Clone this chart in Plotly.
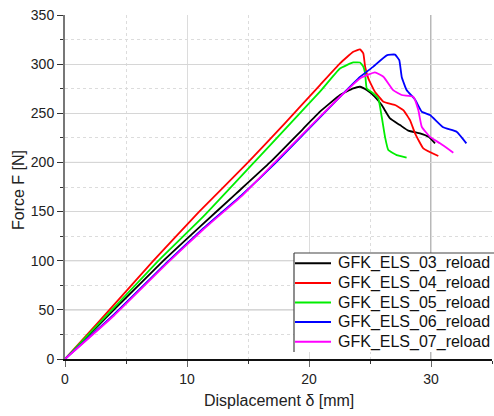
import plotly.graph_objects as go

# Force-displacement curves of the reloaded GFK ELS specimens
names = ["GFK_ELS_03_reload", "GFK_ELS_04_reload", "GFK_ELS_05_reload",
         "GFK_ELS_06_reload", "GFK_ELS_07_reload"]
colors = ["#000000", "#ff0000", "#00ee00", "#0000ff", "#ff00ff"]

disp_03 = [0, 4, 8.07, 11.07, 14, 16.8, 19.5, 20.9, 22.54, 23.63, 24.18, 24.73, 25.4,
           25.96, 26.64, 27.46, 28.14, 29.1, 29.8, 30.33]
force_03 = [0, 50, 100, 134.7, 168, 200, 234, 251.6, 268.6, 275.4, 277, 273.6, 266.8,
            258.4, 244.8, 238, 232.3, 229.5, 226, 219.4]

disp_04 = [0, 3, 7.25, 11, 15, 18, 20.9, 22.54, 23.63, 24.18, 24.45,
           24.6, 24.86, 25.4, 26.1, 27.05, 27.73, 28.28, 28.69, 29.37, 30.6]
force_04 = [0, 41, 100, 150, 200, 239.5, 278.7, 300.8, 312.6, 315, 311,
            297.5, 285.5, 272, 261.8, 258.4, 253.3, 243, 229.6, 214.3, 206.5]

disp_05 = [0, 4, 7.66, 11.35, 15.5, 18.5, 20.9, 22.54, 23.63, 24.18, 24.45, 24.6, 24.73,
           25.27, 25.68, 25.96, 26.23, 26.5, 27.19, 28.0]
force_05 = [0, 52, 100, 145, 200, 240, 272, 295.6, 301.7, 301.7, 297.5, 290.7, 275.4,
            270.3, 265.2, 246.5, 226, 212.6, 207.5, 205]

disp_06 = [0, 4, 8.34, 11.35, 14.5, 17.3, 22.54, 24.18, 25.27, 26.37, 27.05, 27.4,
           27.6, 28.0, 28.69, 29.24, 29.92, 31.0, 32.1, 32.9]
force_06 = [0, 45, 98, 133, 167, 200, 266.8, 287, 297.5, 309, 309.7, 304,
            287, 273.6, 264, 251.6, 248.2, 235.7, 231.2, 219.4]

disp_07 = [0, 4, 8.34, 11.35, 14.5, 17.2, 20.9, 22.54, 24.18, 25.4, 26.1, 26.9,
           27.6, 28.55, 28.96, 29.24, 29.92, 30.74, 31.83]
force_07 = [0, 44, 97, 132, 166, 200, 246.5, 266.8, 285.5, 291.6, 287.2, 273.6,
            268.6, 266.8, 253.3, 236.3, 226, 219.4, 209.9]

series_x = [disp_03, disp_04, disp_05, disp_06, disp_07]
series_y = [force_03, force_04, force_05, force_06, force_07]

x_ticks = [0, 10, 20, 30]
y_ticks = [0, 50, 100, 150, 200, 250, 300, 350]

FONT = "Arial, Liberation Sans, sans-serif"
W, H = 494, 416
ML, MR, MT, MB = 65, 2, 15, 57
PW, PH = W - ML - MR, H - MT - MB


def px_x(p):
    return (p - ML) / PW


def px_y(p):
    return (H - MB - p) / PH


fig = go.Figure()
for nm, c, xs, ys in zip(names, colors, series_x, series_y):
    fig.add_trace(go.Scatter(x=xs, y=ys, mode="lines", name=nm,
                             line=dict(color=c, width=1.8, shape="spline", smoothing=0.35),
                             showlegend=False))

fig.update_layout(
    width=W, height=H,
    margin=dict(l=ML, r=MR, t=MT, b=MB),
    paper_bgcolor="white", plot_bgcolor="white",
    font=dict(family=FONT, color="#222222"),
    xaxis=dict(range=[0, 35], tickvals=x_ticks, showgrid=True, gridcolor="#dcdcdc",
               gridwidth=1, zeroline=False, showline=True, linecolor="#111111",
               linewidth=2, ticks="outside", ticklen=6, tickcolor="#666666",
               tickfont=dict(size=14, family=FONT, color="#222222"),
               minor=dict(dtick=5, ticks="outside", ticklen=3, tickcolor="#333333",
                          showgrid=True, gridcolor="#dcdcdc", griddash="dot")),
    yaxis=dict(range=[0, 350], tickvals=y_ticks, showgrid=True, gridcolor="#d6d6d6",
               gridwidth=1, zeroline=False, showline=True, linecolor="#777777",
               linewidth=2, ticks="outside", ticklen=6, tickcolor="#333333",
               tickfont=dict(size=14, family=FONT, color="#222222"),
               minor=dict(dtick=25, ticks="outside", ticklen=3, tickcolor="#333333",
                          showgrid=True, gridcolor="#dcdcdc", griddash="dot")),
)

shapes = []
# Emphasised grid lines
for yv, col in [(50, "#b4b4b4"), (100, "#b4b4b4"), (200, "#9a9a9a")]:
    shapes.append(dict(type="line", xref="paper", yref="y", x0=0, x1=1, y0=yv, y1=yv,
                       line=dict(color=col, width=1), layer="below"))
shapes.append(dict(type="line", xref="x", yref="paper", x0=30, x1=30, y0=0, y1=1,
                   line=dict(color="#a0a0a0", width=1.5), layer="below"))

# Legend box
lg_left, lg_top, lg_bottom = 294, 253, 352
shapes.append(dict(type="rect", xref="paper", yref="paper",
                   x0=px_x(lg_left), x1=px_x(W + 5), y0=px_y(lg_bottom), y1=px_y(lg_top),
                   fillcolor="white", line=dict(width=0), layer="above"))
shapes.append(dict(type="line", xref="paper", yref="paper",
                   x0=px_x(lg_left), x1=px_x(lg_left), y0=px_y(lg_bottom), y1=px_y(lg_top),
                   line=dict(color="#444444", width=1.2), layer="above"))
shapes.append(dict(type="line", xref="paper", yref="paper",
                   x0=px_x(lg_left), x1=px_x(W + 5), y0=px_y(lg_top), y1=px_y(lg_top),
                   line=dict(color="#444444", width=1.2), layer="above"))

annotations = []
row0, row_step = 263.3, 19.6
for i, (nm, c) in enumerate(zip(names, colors)):
    yy = px_y(row0 + i * row_step)
    shapes.append(dict(type="line", xref="paper", yref="paper",
                       x0=px_x(295), x1=px_x(331), y0=yy, y1=yy,
                       line=dict(color=c, width=2), layer="above"))
    annotations.append(dict(xref="paper", yref="paper", x=px_x(336), y=yy,
                            xanchor="left", yanchor="middle", showarrow=False,
                            text=nm, font=dict(size=16, family=FONT, color="#111111")))

# Axis titles
annotations.append(dict(xref="paper", yref="paper", x=px_x(279), y=px_y(400),
                        xanchor="center", yanchor="middle", showarrow=False,
                        text="Displacement δ [mm]",
                        font=dict(size=16, family=FONT, color="#222222")))
annotations.append(dict(xref="paper", yref="paper", x=px_x(18), y=px_y(190),
                        xanchor="center", yanchor="middle", showarrow=False,
                        textangle=-90, text="Force F [N]",
                        font=dict(size=16, family=FONT, color="#222222")))

fig.update_layout(shapes=shapes, annotations=annotations)
fig.write_html("out.html")
